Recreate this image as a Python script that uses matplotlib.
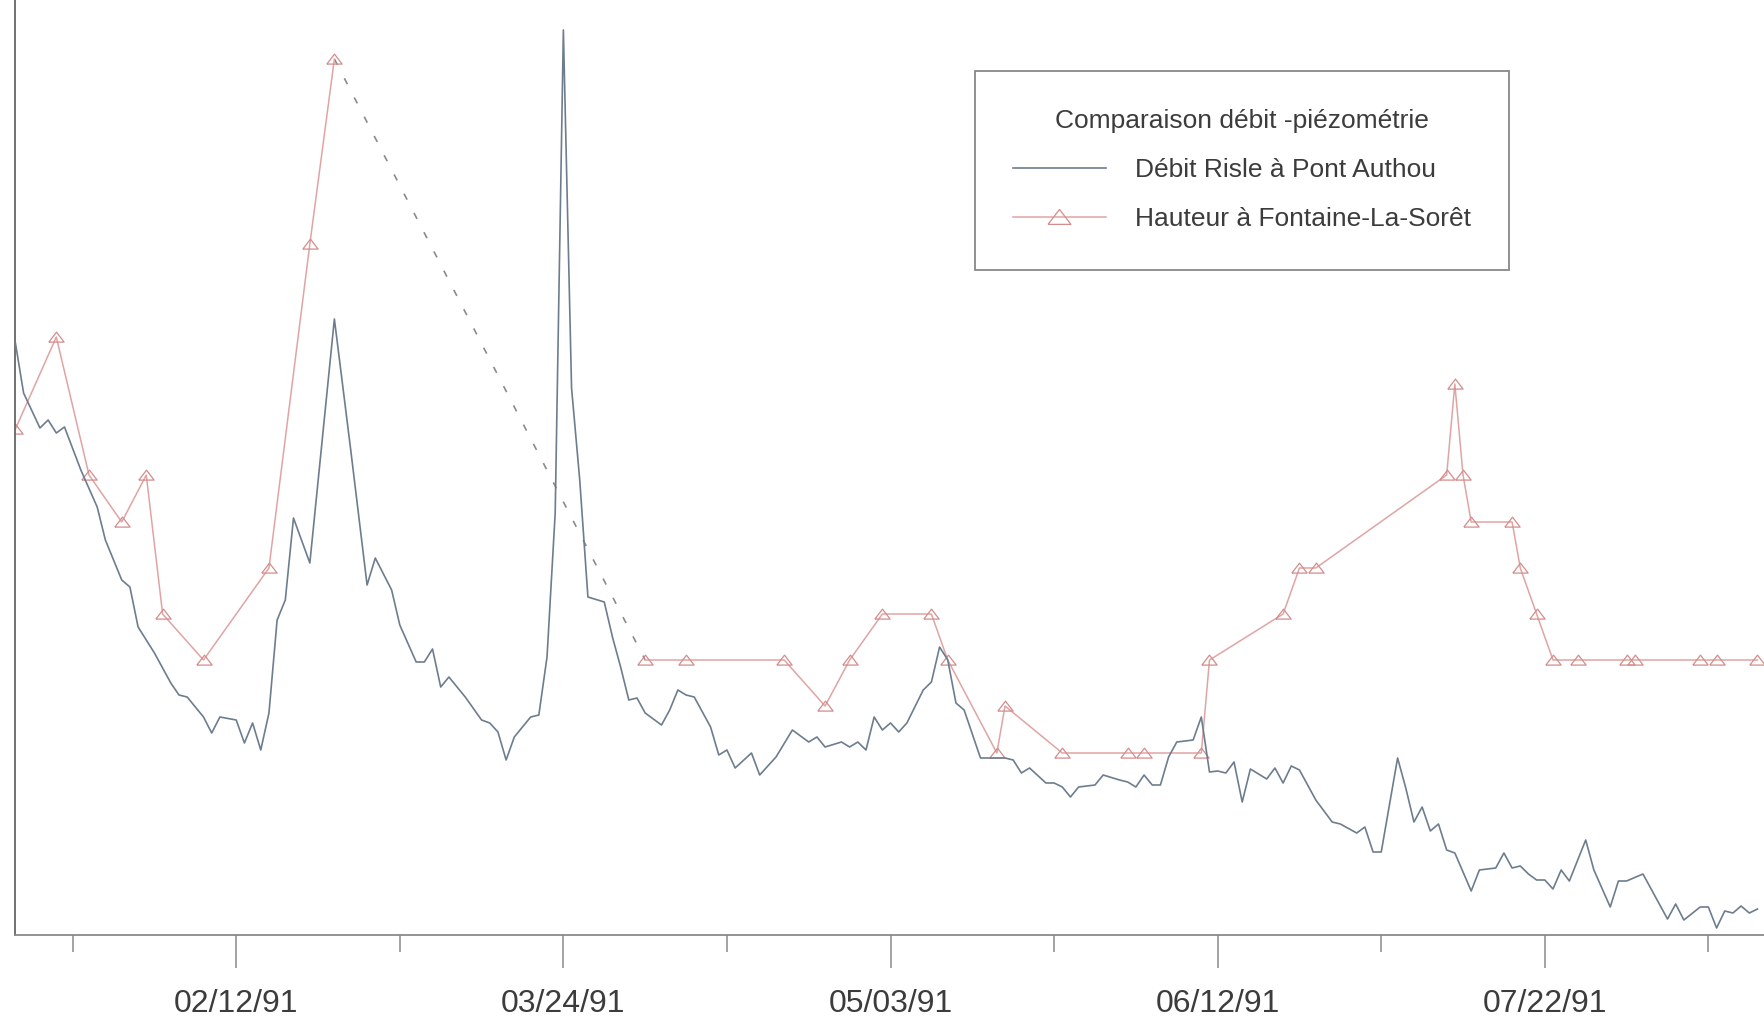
import matplotlib
matplotlib.use("Agg")
import matplotlib.pyplot as plt
import pandas as pd

plt.rcParams["font.family"] = ["Liberation Sans", "DejaVu Sans"]

ORIGIN = pd.Timestamp("1991-01-01")

# Débit Risle à Pont Authou : jour (0 = 1er janvier 1991), débit en unités relatives
debit_jour = [
    15, 16, 18, 19, 20, 21, 23, 25, 26, 28,
    29, 30, 32, 34, 35, 36, 38, 39, 40, 42,
    43, 44, 45, 46, 47, 48, 49, 51, 54, 56,
    58, 59, 61, 62, 64, 65, 66, 67, 68, 70,
    72, 73, 74, 75, 76, 78, 79, 80, 81, 82,
    83, 84, 85, 87, 88, 89, 90, 91, 92, 94,
    95, 96, 97, 98, 100, 101, 102, 103, 105, 106,
    108, 110, 112, 113, 114, 116, 117, 118, 119, 120,
    121, 122, 123, 124, 126, 127, 128, 129, 130, 131,
    133, 134, 136, 137, 138, 139, 141, 142, 143, 144,
    145, 147, 148, 150, 151, 152, 153, 154, 155, 156,
    157, 159, 160, 161, 162, 163, 164, 165, 166, 168,
    169, 170, 171, 172, 174, 176, 177, 179, 180, 181,
    182, 184, 185, 186, 187, 188, 189, 190, 191, 193,
    194, 196, 197, 198, 199, 200, 201, 202, 203, 204,
    205, 207, 208, 210, 211, 212, 214, 215, 217, 218,
    219, 221, 222, 223, 224, 225, 226, 227, 228,
]
debit_val = [
    59.2, 54.2, 50.7, 51.5, 50.2, 50.8, 46.5, 42.8, 39.5, 35.5,
    34.8, 30.8, 28.2, 25.2, 24.0, 23.8, 21.8, 20.2, 21.8, 21.5,
    19.2, 21.2, 18.5, 22.2, 31.5, 33.5, 41.7, 37.2, 61.6, 48.5,
    35.0, 37.7, 34.5, 31.0, 27.3, 27.3, 28.6, 24.8, 25.8, 23.8,
    21.5, 21.2, 20.3, 17.5, 19.8, 21.8, 22.0, 27.8, 42.2, 90.5,
    54.7, 45.5, 33.8, 33.3, 29.8, 26.8, 23.5, 23.7, 22.2, 21.0,
    22.5, 24.5, 24.0, 23.8, 20.8, 18.0, 18.5, 16.7, 18.2, 16.0,
    17.8, 20.5, 19.3, 19.8, 18.8, 19.3, 18.8, 19.3, 18.5, 21.8,
    20.5, 21.2, 20.3, 21.2, 24.5, 25.3, 28.8, 27.5, 23.2, 22.5,
    17.7, 17.7, 17.7, 17.5, 16.2, 16.7, 15.2, 15.2, 14.8, 13.8,
    14.8, 15.0, 16.0, 15.5, 15.3, 14.8, 16.0, 15.0, 15.0, 17.8,
    19.3, 19.5, 21.8, 16.3, 16.4, 16.2, 17.3, 13.3, 16.6, 15.6,
    16.7, 15.2, 16.9, 16.5, 13.5, 11.3, 11.1, 10.2, 10.8, 8.3,
    8.3, 17.7, 14.7, 11.3, 12.8, 10.4, 11.1, 8.5, 8.2, 4.4,
    6.5, 6.7, 8.2, 6.7, 6.9, 6.1, 5.5, 5.5, 4.6, 6.5,
    5.4, 9.5, 6.5, 2.8, 5.4, 5.4, 6.1, 4.6, 1.6, 3.1,
    1.5, 2.8, 2.8, 0.7, 2.4, 2.2, 2.9, 2.2, 2.6,
]

# Hauteur à Fontaine-La-Sorêt (relevés piézométriques, même échelle relative)
hauteur_jour = [
    15, 20, 24, 28, 31, 33, 38, 46, 51, 54,
    92, 97, 109, 114, 117, 121, 127, 129, 135, 136,
    143, 151, 153, 160, 161, 170, 172, 174, 190, 191,
    192, 193, 198, 199, 201, 203, 206, 212, 213, 221,
    223, 228,
]
hauteur_val = [
    50.6, 59.8, 46.0, 41.3, 46.0, 32.1, 27.5, 36.7, 69.1, 87.6,
    27.5, 27.5, 27.5, 22.9, 27.5, 32.1, 32.1, 27.5, 18.2, 22.9,
    18.2, 18.2, 18.2, 18.2, 27.5, 32.1, 36.7, 36.7, 46.0, 55.1,
    46.0, 41.3, 41.3, 36.7, 32.1, 27.5, 27.5, 27.5, 27.5, 27.5,
    27.5, 27.5,
]

major_labels = ["02/12/91", "03/24/91", "05/03/91", "06/12/91", "07/22/91"]
minor_dates = ["01/23/91", "03/04/91", "04/13/91", "05/23/91", "07/02/91", "08/11/91"]

legend_title = "Comparaison débit -piézométrie"
label_debit = "Débit Risle à Pont Authou"
label_hauteur = "Hauteur à Fontaine-La-Sorêt"

BLUE = "#6d7d8e"
PINK = "#e0a4a4"
PINK_EDGE = "#d48c8c"
GREY = "#8a8a8a"
TEXT = "#3c3c3c"


def to_dates(days):
    return ORIGIN + pd.to_timedelta(days, unit="D")


d_debit = to_dates(debit_jour)
d_haut = to_dates(hauteur_jour)

# coupure là où il manque des relevés (plus de 20 jours entre deux mesures)
gaps = [i for i in range(1, len(hauteur_jour)) if hauteur_jour[i] - hauteur_jour[i - 1] > 20]
cut = gaps[0]

tri = [(-1, -0.6), (1, -0.6), (0, 0.7), (-1, -0.6)]

fig = plt.figure(figsize=(17.64, 10.17), dpi=100)
ax = fig.add_axes([15 / 1764, 82 / 1017, 1 - 15 / 1764, 935 / 1017])

ax.plot(d_debit, debit_val, color=BLUE, lw=1.2, zorder=3, label=label_debit)

mk = dict(marker=tri, ms=11, mfc="none", mec=PINK_EDGE, mew=0.9)
h_line, = ax.plot(d_haut[:cut], hauteur_val[:cut], color=PINK, lw=1.1, zorder=2,
                  label=label_hauteur, **mk)
ax.plot(d_haut[cut:], hauteur_val[cut:], color=PINK, lw=1.1, zorder=2, **mk)
ax.plot(d_haut[cut - 1:cut + 1], hauteur_val[cut - 1:cut + 1], color=GREY, lw=1.2,
        linestyle=(0, (4, 9)), zorder=1)

ax.set_xlim(ORIGIN + pd.Timedelta(days=14.95), ORIGIN + pd.Timedelta(days=228.8))
ax.set_ylim(0, 93.5)

ax.set_xticks(pd.to_datetime(major_labels, format="%m/%d/%y"))
ax.set_xticklabels(major_labels)
ax.set_xticks(pd.to_datetime(minor_dates, format="%m/%d/%y"), minor=True)
ax.tick_params(axis="x", which="major", length=24, width=1.1, color=GREY,
               labelsize=23, labelcolor=TEXT, pad=15)
ax.tick_params(axis="x", which="minor", length=12, width=1.1, color=GREY)
ax.set_yticks([])

for s in ("top", "right"):
    ax.spines[s].set_visible(False)
ax.spines["left"].set_color("#666666")
ax.spines["left"].set_linewidth(1.3)
ax.spines["bottom"].set_color(GREY)
ax.spines["bottom"].set_linewidth(1.3)

leg = ax.legend(handles=[ax.lines[0], h_line], title=legend_title,
                loc="upper left", bbox_to_anchor=(975 / 1764, 1 - 71 / 1017),
                bbox_transform=fig.transFigure, fontsize=19, title_fontsize=19,
                frameon=True, fancybox=False, borderpad=1.45, handlelength=3.5,
                handletextpad=1.1, labelspacing=0.95, markerscale=1.5,
                borderaxespad=0)
leg.get_frame().set_edgecolor("#6a6a6a")
leg.get_frame().set_linewidth(1.3)
leg.get_title().set_color(TEXT)
for t in leg.get_texts():
    t.set_color(TEXT)

fig.savefig("out.png", dpi=100)
